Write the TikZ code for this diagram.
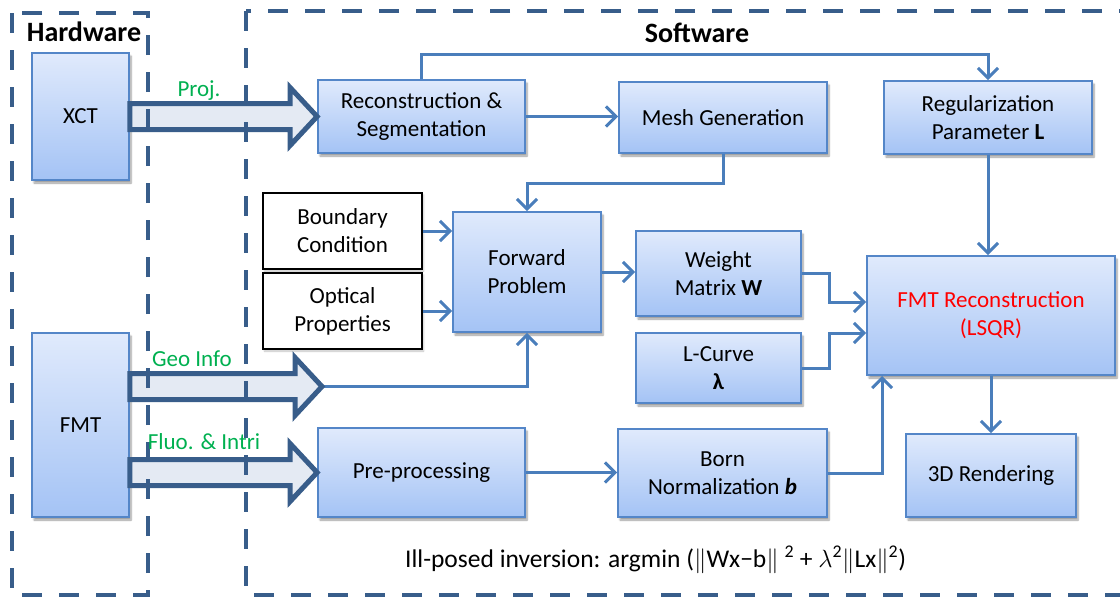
\documentclass[tikz,border=0pt]{standalone}
\usepackage{fontspec}
\setmainfont{Carlito}
\usetikzlibrary{arrows.meta,calc,shadows.blur}

\definecolor{frameblue}{RGB}{56,93,138}
\definecolor{boxline}{RGB}{84,134,200}
\definecolor{boxtop}{RGB}{224,234,252}
\definecolor{boxbottom}{RGB}{164,195,245}
\definecolor{linkblue}{RGB}{74,126,187}
\definecolor{fatfill}{RGB}{228,234,243}
\definecolor{labelgreen}{RGB}{0,176,80}

\newcommand{\boxfont}{\fontsize{23}{28}\selectfont}
\newcommand{\formulafont}{\fontsize{25.5}{30}\selectfont}
\newcommand{\headfont}{\fontsize{28}{32}\selectfont\bfseries}

% wide hollow arrow from a tail point to a tip point (same height)
\newcommand{\fatarrow}[2]{%
  \draw[fat] ($(#1)+(0,-13)$) -- ($(#2)+(-27,-13)$) -- ($(#2)+(-27,-29)$)
    -- (#2) -- ($(#2)+(-27,29)$) -- ($(#2)+(-27,13)$) -- ($(#1)+(0,13)$) -- cycle;}

\tikzset{
  stage/.style={draw=boxline, line width=1.8pt, top color=boxtop,
    bottom color=boxbottom, align=center, inner sep=0pt, font=\boxfont,
    blur shadow={shadow xshift=2pt, shadow yshift=-3pt,
      shadow blur steps=6, shadow opacity=40}},
  given/.style={draw=black, line width=2.5pt, fill=white, align=center,
    inner sep=0pt, font=\boxfont,
    blur shadow={shadow xshift=1.5pt, shadow yshift=-2pt,
      shadow blur steps=4, shadow opacity=25}},
  link/.style={draw=linkblue, line width=3pt,
    -{Straight Barb[length=10pt,width=20pt]}},
  fat/.style={draw=frameblue, line width=5pt, fill=fatfill, line join=miter},
  frame/.style={draw=frameblue, line width=4.5pt, dash pattern=on 20pt off 17pt},
  flowlabel/.style={text=labelgreen, font=\boxfont, anchor=base, inner sep=0pt},
  heading/.style={font=\headfont, anchor=base, inner sep=0pt},
}

\begin{document}
\begin{tikzpicture}[x=1pt,y=-1pt]
\useasboundingbox (0,0) rectangle (1120,598);

% hardware side
\node[stage, minimum width=97pt, minimum height=127pt] (xct) at (80.5,116.5) {XCT};
\node[stage, minimum width=97pt, minimum height=184pt] (fmt) at (80.5,425) {FMT};

% software pipeline
\node[stage, minimum width=207pt, minimum height=73pt] (recon) at (421.5,116.5)
  {Reconstruction \&\\Segmentation};
\node[stage, minimum width=208pt, minimum height=71pt] (mesh) at (723,117.5)
  {Mesh Generation};
\node[stage, minimum width=208pt, minimum height=73pt] (reg) at (988,117.5)
  {Regularization\\Parameter \textbf{L}};
\node[given, minimum width=159pt, minimum height=76pt] (bc) at (342.5,231)
  {Boundary\\Condition};
\node[given, minimum width=159pt, minimum height=76pt] (op) at (342.5,311)
  {Optical\\Properties};
\node[stage, minimum width=148pt, minimum height=120pt] (fwd) at (527,272)
  {Forward\\Problem};
\node[stage, minimum width=165pt, minimum height=85pt] (wm) at (718.5,273.5)
  {Weight\\Matrix \textbf{W}};
\node[stage, minimum width=165pt, minimum height=70pt] (lc) at (718.5,368)
  {L-Curve\\\textbf{λ}};
\node[stage, minimum width=248pt, minimum height=119pt] (fmtrec) at (991,315.5)
  {\textcolor{red}{FMT Reconstruction}\\\textcolor{red}{(LSQR)}};
\node[stage, minimum width=207pt, minimum height=89pt] (pre) at (421.5,472.5)
  {Pre-processing};
\node[stage, minimum width=209pt, minimum height=88pt] (born) at (722.5,473)
  {Born\\Normalization \textbf{\textit{b}}};
\node[stage, minimum width=170pt, minimum height=83pt] (rend) at (991,475.5)
  {3D Rendering};

% connectors
\coordinate (geo) at (322,386.5);
\draw[link] (geo) -| (fwd.south);
\draw[link] (recon.east) -- (recon.east -| mesh.west);
\draw[link] (recon.north) -- ++(0,-25) -| (reg.north);
\draw[link] (mesh.south) -- ++(0,30) -| (fwd.north);
\draw[link] (bc.east) -- (bc.east -| fwd.west);
\draw[link] (op.east) -- (op.east -| fwd.west);
\draw[link] (fwd.east) -- (fwd.east -| wm.west);
\draw[link] (wm.east) -- ++(28,0) |- ($(fmtrec.west)+(0,-13.5)$);
\draw[link] (lc.east) -- ++(28,0) |- ($(fmtrec.west)+(0,17.5)$);
\draw[link] (born.east) -| ($(fmtrec.south west)+(16,0)$);
\draw[link] (reg.south) -- (reg.south |- fmtrec.north);
\draw[link] (fmtrec.south) -- (rend.north);
\draw[link] (pre.east) -- (pre.east -| born.west);

% data transfer arrows from the scanners
\coordinate (geotail) at (fmt.east |- geo);
\coordinate (fluotail) at (fmt.east |- pre.west);
\fatarrow{xct.east}{recon.west}
\fatarrow{geotail}{geo}
\fatarrow{fluotail}{pre.west}

% hardware / software frames
\draw[frame] (12,13) rectangle (148,595);
\draw[frame] (246,11) rectangle (1126,595);

% labels
\node[heading] (hwtitle) at (84,41) {Hardware};
\node[heading] (swtitle) at (697,42) {Software};
\node[flowlabel] (projlabel) at (199,96) {Proj.};
\node[flowlabel] (geolabel) at (192,366) {Geo Info};
\node[flowlabel] (fluolabel) at (204,449) {Fluo. \& Intri};
\node[anchor=base west, font=\formulafont, inner sep=0pt] (formula) at (405,567)
  {Ill-posed inversion: argmin ($\Vert$Wx−b$\Vert$ \textsuperscript{2} + $\lambda$\textsuperscript{2}$\Vert$Lx$\Vert$\textsuperscript{2})};
\end{tikzpicture}
\end{document}
